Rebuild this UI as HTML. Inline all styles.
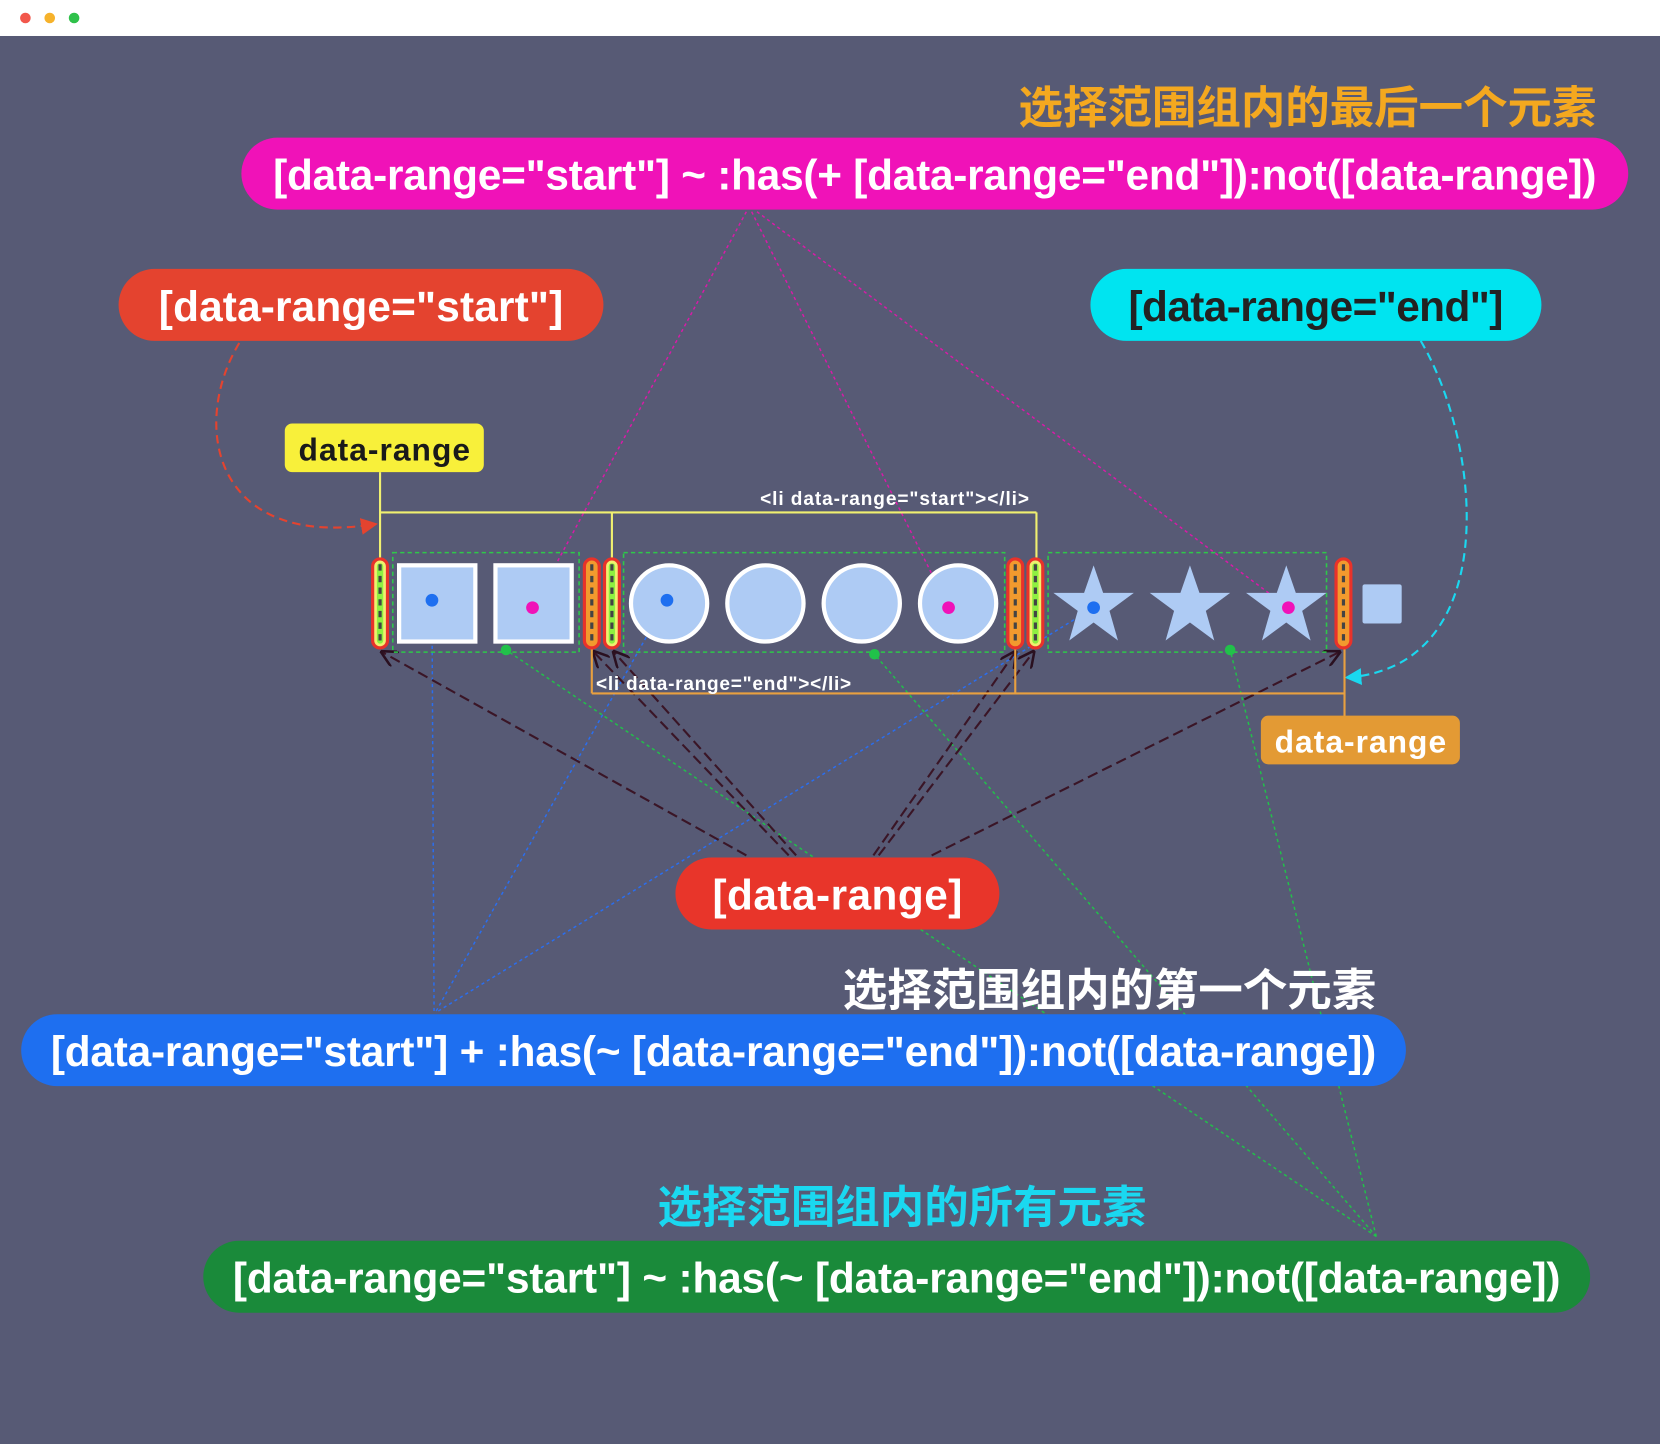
<!DOCTYPE html>
<html><head><meta charset="utf-8"><style>
html,body{margin:0;padding:0;background:#575a75;}
svg{display:block}
text{font-family:"Liberation Sans","Noto Sans CJK SC",sans-serif;font-weight:bold}
</style></head><body>
<svg width="1660" height="1444" viewBox="0 0 1568 1364" preserveAspectRatio="none" xmlns="http://www.w3.org/2000/svg">
<defs>
<marker id="ah" markerWidth="8" markerHeight="8" refX="7" refY="4" orient="auto"><path d="M0,0 L8,4 L0,8" fill="none" stroke="#2a1020" stroke-width="1.2"/></marker>
<marker id="ar" markerWidth="8" markerHeight="8" refX="7" refY="4" orient="auto"><path d="M0,0 L8,4 L0,8 z" fill="#e4432f"/></marker>
<marker id="ac" markerWidth="8" markerHeight="8" refX="7" refY="4" orient="auto"><path d="M0,0 L8,4 L0,8 z" fill="#1ad8f0"/></marker>
<g id="bar"><rect x="-7" y="0" width="14" height="84" rx="7" fill="#f0f070" stroke="#e8322a" stroke-width="3"/><rect x="-3" y="4" width="6" height="76" rx="3" fill="#8ef040"/></g>
<g id="obar"><rect x="-7" y="0" width="14" height="84" rx="7" fill="#f29a2e" stroke="#e8322a" stroke-width="3"/></g>
</defs>
<rect x="0" y="0" width="1568" height="1364" fill="#575a75"/>
<rect x="0" y="0" width="1568" height="34" fill="#ffffff"/>
<circle cx="24" cy="17" r="5" fill="#f2574b"/><circle cx="47" cy="17" r="5" fill="#f6b22b"/><circle cx="70" cy="17" r="5" fill="#2fc14a"/>

<g fill="none" stroke-width="1.4">
<g stroke="#d81aa8" stroke-dasharray="3 3">
<line x1="705" y1="200" x2="503" y2="574"/><line x1="710" y1="200" x2="896" y2="574"/><line x1="715" y1="200" x2="1217" y2="574"/>
</g>
<g stroke="#2a6ef0" stroke-dasharray="3 3">
<line x1="410" y1="955" x2="408" y2="567"/><line x1="412" y1="955" x2="630" y2="567"/><line x1="414" y1="955" x2="1033" y2="574"/>
</g>
<g stroke="#21c14a" stroke-dasharray="3 3">
<line x1="1300" y1="1168" x2="478" y2="614"/><line x1="1300" y1="1168" x2="826" y2="618"/><line x1="1300" y1="1168" x2="1162" y2="614"/>
</g>
<g stroke="#3a1526" stroke-dasharray="10 5" stroke-width="2" marker-end="url(#ah)">
<line x1="705" y1="808" x2="361" y2="616"/>
<line x1="745" y1="808" x2="561" y2="616"/><line x1="752" y1="808" x2="580" y2="616"/>
<line x1="825" y1="808" x2="959" y2="616"/><line x1="830" y1="808" x2="976" y2="616"/>
<line x1="880" y1="808" x2="1265" y2="616"/>
</g>
<path d="M226,324 C180,400 200,520 355,495" stroke="#e4432f" stroke-dasharray="8 5" stroke-width="2" marker-end="url(#ar)"/>
<path d="M1342,322 C1400,420 1420,630 1272,640" stroke="#1ad8f0" stroke-dasharray="8 5" stroke-width="2" marker-end="url(#ac)"/>
<g stroke="#f0f070" stroke-width="2">
<line x1="359" y1="446" x2="359" y2="528"/><line x1="359" y1="484" x2="979" y2="484"/>
<line x1="578" y1="484" x2="578" y2="528"/><line x1="979" y1="484" x2="979" y2="528"/>
</g>
<g stroke="#e8a040" stroke-width="2">
<line x1="559" y1="612" x2="559" y2="655"/><line x1="559" y1="655" x2="1270" y2="655"/>
<line x1="959" y1="612" x2="959" y2="655"/><line x1="1270" y1="612" x2="1270" y2="678"/>
</g>
</g>
<text x="718" y="477" font-size="18" fill="#fff" textLength="254">&lt;li data-range="start"&gt;&lt;/li&gt;</text>
<text x="563" y="652" font-size="18" fill="#fff" textLength="241">&lt;li data-range="end"&gt;&lt;/li&gt;</text>

<g fill="none" stroke="#2ec84a" stroke-width="1.5" stroke-dasharray="4 3">
<rect x="371" y="522" width="176" height="94"/><rect x="589" y="522" width="360" height="94"/><rect x="990" y="522" width="263" height="94"/>
</g>
<rect x="377" y="534" width="72" height="72" fill="#aecbf4" stroke="#fff" stroke-width="4"/>
<rect x="468" y="534" width="72" height="72" fill="#aecbf4" stroke="#fff" stroke-width="4"/>
<g fill="#aecbf4" stroke="#fff" stroke-width="4">
<circle cx="632" cy="570" r="36"/><circle cx="723" cy="570" r="36"/><circle cx="814" cy="570" r="36"/><circle cx="905" cy="570" r="36"/>
</g>
<g fill="#aecbf4">
<path d="M0,-38 L9,-12 L38,-12 L15,5 L23,33 L0,16 L-23,33 L-15,5 L-38,-12 L-9,-12 z" transform="translate(1033,572)"/>
<path d="M0,-38 L9,-12 L38,-12 L15,5 L23,33 L0,16 L-23,33 L-15,5 L-38,-12 L-9,-12 z" transform="translate(1124,572)"/>
<path d="M0,-38 L9,-12 L38,-12 L15,5 L23,33 L0,16 L-23,33 L-15,5 L-38,-12 L-9,-12 z" transform="translate(1215,572)"/>
</g>
<rect x="1287" y="552" width="37" height="37" rx="2" fill="#aecbf4"/>
<use href="#bar" x="359" y="528"/><use href="#obar" x="559" y="528"/><use href="#bar" x="578" y="528"/>
<use href="#obar" x="959" y="528"/><use href="#bar" x="978" y="528"/><use href="#obar" x="1269" y="528"/>
<g stroke="#444" stroke-width="3" stroke-dasharray="6 5">
<line x1="359" y1="533" x2="359" y2="608"/><line x1="559" y1="533" x2="559" y2="608"/><line x1="578" y1="533" x2="578" y2="608"/>
<line x1="959" y1="533" x2="959" y2="608"/><line x1="978" y1="533" x2="978" y2="608"/><line x1="1269" y1="533" x2="1269" y2="608"/>
</g>
<g fill="#1e6ff0"><circle cx="408" cy="567" r="6"/><circle cx="630" cy="567" r="6"/><circle cx="1033" cy="574" r="6"/></g>
<g fill="#f012b8"><circle cx="503" cy="574" r="6"/><circle cx="896" cy="574" r="6"/><circle cx="1217" cy="574" r="6"/></g>
<g fill="#21c14a"><circle cx="478" cy="614" r="5"/><circle cx="826" cy="618" r="5"/><circle cx="1162" cy="614" r="5"/></g>

<text x="1508" y="116" font-size="42" fill="#f4a81f" text-anchor="end">选择范围组内的最后一个元素</text>
<rect x="228" y="130" width="1310" height="68" rx="34" fill="#f012b8"/>
<text x="883" y="179" font-size="40" fill="#fff" text-anchor="middle" textLength="1250">[data-range="start"] ~ :has(+ [data-range="end"]):not([data-range])</text>
<rect x="112" y="254" width="458" height="68" rx="34" fill="#e4432f"/>
<text x="341" y="303" font-size="40" fill="#fff" text-anchor="middle" textLength="382">[data-range="start"]</text>
<rect x="1030" y="254" width="426" height="68" rx="34" fill="#00e4f0"/>
<text x="1243" y="303" font-size="40" fill="#222" text-anchor="middle" textLength="354">[data-range="end"]</text>
<rect x="269" y="400" width="188" height="46" rx="7" fill="#f8f03a"/>
<text x="363" y="435" font-size="30" fill="#1a1a1a" text-anchor="middle" textLength="162">data-range</text>
<rect x="1191" y="676" width="188" height="46" rx="7" fill="#e39a34"/>
<text x="1285" y="711" font-size="30" fill="#fff" text-anchor="middle" textLength="162">data-range</text>
<rect x="638" y="810" width="306" height="68" rx="34" fill="#e8352a"/>
<text x="791" y="859" font-size="40" fill="#fff" text-anchor="middle" textLength="236">[data-range]</text>
<text x="1300" y="950" font-size="42" fill="#fff" text-anchor="end">选择范围组内的第一个元素</text>
<rect x="20" y="958" width="1308" height="68" rx="34" fill="#1e6ff0"/>
<text x="674" y="1007" font-size="40" fill="#fff" text-anchor="middle" textLength="1252">[data-range="start"] + :has(~ [data-range="end"]):not([data-range])</text>
<text x="852" y="1155" font-size="42" fill="#1ad8f0" text-anchor="middle">选择范围组内的所有元素</text>
<rect x="192" y="1172" width="1310" height="68" rx="34" fill="#1a8a3a"/>
<text x="847" y="1221" font-size="40" fill="#fff" text-anchor="middle" textLength="1254">[data-range="start"] ~ :has(~ [data-range="end"]):not([data-range])</text>
</svg>
</body></html>
